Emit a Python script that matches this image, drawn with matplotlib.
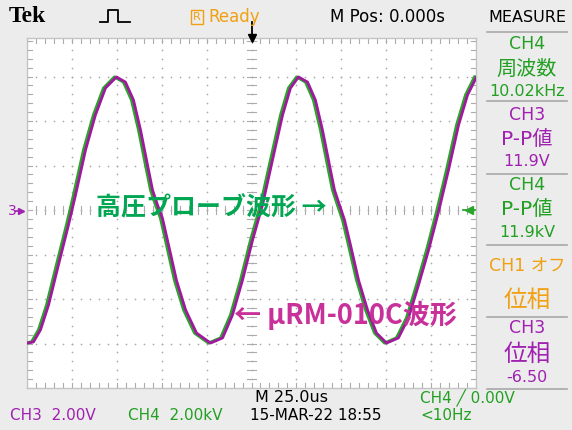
"""Tek scope screenshot: CH3 (uRM-010C) vs CH4 (HV probe), 10 kHz sine."""

import matplotlib
matplotlib.use("Agg")
import matplotlib.pyplot as plt
from matplotlib.lines import Line2D
from matplotlib.patches import Rectangle
import numpy as np

# Waveform: time (us) and CH3 voltage (V)
t_us = [-124.7, -121.4, -117.5, -113.0, -107.5, -101.9, -98.0, -92.4, -86.9,
        -81.3, -75.2, -70.2, -65.7, -61.8, -57.9, -55.1, -52.3, -49.6, -46.2,
        -41.8, -36.7, -30.6, -22.8, -16.1, -10.6, -5.0, 0.6, 6.1, 11.7, 17.3,
        21.7, 26.2, 31.2, 35.6, 39.5, 43.4, 46.2, 49.0, 51.8, 55.1, 59.6, 64.6,
        69.6, 75.2, 81.8, 87.4, 93.0, 98.6, 104.1, 109.7, 115.3, 120.3, 125.3]
ch3_v = [-5.98, -5.93, -5.39, -4.27, -2.47, -0.67, 0.67, 2.70, 4.27, 5.48,
         5.98, 5.75, 4.94, 3.60, 2.02, 0.90, 0.22, -0.36, -1.57, -3.15, -4.49,
         -5.53, -5.98, -5.75, -4.72, -3.15, -1.35, 0.22, 2.25, 4.27, 5.48, 5.98,
         5.75, 4.94, 3.60, 2.02, 0.90, 0.22, -0.45, -1.57, -3.15, -4.49, -5.53,
         -5.98, -5.75, -4.85, -3.37, -1.80, -0.09, 1.80, 3.82, 5.17, 5.98]

# CH4 trace runs slightly ahead of CH3 on screen (us)
ch4_lead_us = 1.1

# Scope settings
time_div = 25.0   # us/div
volt_div = 2.0    # V/div (CH3), CH4 is 2 kV/div -> same screen scale

W, H = 572, 430
BG = "#ececec"
C_MAG = "#a0189e"
C_GRN = "#2aa52a"
C_TXT_MAG = "#a020b0"
C_TXT_GRN = "#22a022"
C_ORG = "#f0a010"
C_NOTE_GRN = "#00a651"
C_NOTE_MAG = "#c8309a"

SCOPE = ["DejaVu Sans", "Noto Sans CJK JP"]
JP = ["Noto Sans CJK JP", "DejaVu Sans"]


def px(x, y):
    return x / W, 1 - y / H


def ftext(x, y, s, **kw):
    fig.text(*px(x, y), s, **kw)


def fline(xs, ys, **kw):
    xs = np.asarray(xs, float) / W
    ys = 1 - np.asarray(ys, float) / H
    fig.lines.append(Line2D(xs, ys, transform=fig.transFigure, **kw))


fig = plt.figure(figsize=(W / 100, H / 100), dpi=100)
fig.patch.set_facecolor(BG)

# Graticule area
gx0, gx1, gy0, gy1 = 27, 476, 38, 388
ax = fig.add_axes([gx0 / W, 1 - gy1 / H, (gx1 - gx0) / W, (gy1 - gy0) / H])
ax.set_facecolor("white")
ax.set_xlim(-5 * time_div, 5 * time_div)
ax.set_ylim(-4 * volt_div, 4 * volt_div - 6 / 44.5 * volt_div)
ax.set_xticks([])
ax.set_yticks([])
for s in ax.spines.values():
    s.set_color("#c4c4c4")
    s.set_linewidth(1.0)

# dotted grid
xmaj = np.arange(-4, 5) * time_div
ymaj = np.arange(-3, 4) * volt_div
xmin = np.arange(-25, 26) * time_div / 5
ymin = np.arange(-20, 20) * volt_div / 5
gc = "#ababab"
for xv in xmaj:
    ax.scatter(np.full_like(ymin, xv), ymin, s=1.5, color=gc, lw=0, zorder=1)
for yv in ymaj:
    ax.scatter(xmin, np.full_like(xmin, yv), s=1.5, color=gc, lw=0, zorder=1)
# center cross ticks and edge ticks
tk = 0.09
for xv in xmin:
    ax.plot([xv, xv], [-tk * volt_div, tk * volt_div], color=gc, lw=0.8, zorder=1)
for yv in ymin:
    ax.plot([-tk * time_div, tk * time_div], [yv, yv], color=gc, lw=0.8, zorder=1)
ylo, yhi = ax.get_ylim()
for xv in xmin:
    ax.plot([xv, xv], [yhi, yhi - 0.12 * volt_div], color=gc, lw=0.8, zorder=1)
    ax.plot([xv, xv], [ylo, ylo + 0.12 * volt_div], color=gc, lw=0.8, zorder=1)
for yv in ymin:
    ax.plot([-125, -125 + 0.12 * time_div], [yv, yv], color=gc, lw=0.8, zorder=1)
    ax.plot([125, 125 - 0.12 * time_div], [yv, yv], color=gc, lw=0.8, zorder=1)

# waveforms
t = np.array(t_us)
v = np.array(ch3_v)
ax.plot(t - ch4_lead_us, v, color=C_GRN, lw=2.2, zorder=3, solid_joinstyle="round")
ax.plot(t, v, color=C_MAG, lw=2.0, zorder=4, solid_joinstyle="round")

# markers: trigger position, trigger level, channel ground
ax.plot([0], [yhi], marker="v", ms=6, color="black", clip_on=False, zorder=6)
ax.plot([0, 0], [yhi, yhi + 0.35 * volt_div], color="black", lw=1.3, clip_on=False)
ax.plot([5 * time_div - 4], [0], marker="<", ms=6, color=C_GRN, clip_on=False, zorder=6)
ax.plot([5 * time_div - 7, 5 * time_div], [0, 0], color=C_GRN, lw=1.3, clip_on=False)
ftext(8, 211, "3", color=C_TXT_MAG, fontsize=10, family="DejaVu Sans", va="center")
fline([15, 21], [211, 211], color=C_TXT_MAG, lw=1.2, marker=">", markevery=[1], ms=4)

# annotations
ax.annotate("高圧プローブ波形 →", xy=(-86.5, 0.1), color=C_NOTE_GRN, fontsize=18,
            fontweight="bold", family=JP, ha="left", va="center", zorder=7)
ax.annotate("← μRM-010C波形", xy=(-10, -4.75), color=C_NOTE_MAG, fontsize=19.5,
            fontweight="bold", family=JP, ha="left", va="center", zorder=7)

# header
ftext(9, 17, "Tek", fontsize=17, fontweight="bold", family="Liberation Serif", va="center")
fline([100, 108, 108, 118, 118, 130], [22, 22, 10, 10, 22, 22], color="black", lw=1.3)
fig.patches.append(Rectangle(px(191, 24), 12 / W, 14 / H, fill=False, ec=C_ORG, lw=1.0,
                             transform=fig.transFigure))
ftext(197, 17, "R", color=C_ORG, fontsize=8, family="DejaVu Sans", ha="center", va="center")
ftext(208, 17, "Ready", color=C_ORG, fontsize=12, family="DejaVu Sans", va="center")
ftext(330, 17, "M Pos: 0.000s", color="black", fontsize=12, family="DejaVu Sans",
      va="center")
ftext(527, 17, "MEASURE", color="black", fontsize=11.5, family="DejaVu Sans", va="center",
      ha="center")

# side measurement panel
for yy in [32, 101, 174, 245, 317, 389]:
    fline([487, 567], [yy, yy], color="#a8a8a8", lw=1.2)
side = [
    (44, "CH4", C_TXT_GRN, 12.5), (69, "周波数", C_TXT_GRN, 14.5), (91, "10.02kHz", C_TXT_GRN, 11.5),
    (115, "CH3", C_TXT_MAG, 12.5), (139, "P-P値", C_TXT_MAG, 14.5), (161, "11.9V", C_TXT_MAG, 11.5),
    (185, "CH4", C_TXT_GRN, 12.5), (209, "P-P値", C_TXT_GRN, 14.5), (232, "11.9kV", C_TXT_GRN, 11.5),
    (266, "CH1 オフ", C_ORG, 12.5), (300, "位相", C_ORG, 17),
    (328, "CH3", C_TXT_MAG, 12.5), (354, "位相", C_TXT_MAG, 17), (377, "-6.50", C_TXT_MAG, 11.5),
]
for yy, s, c, fs in side:
    ftext(527, yy, s, color=c, fontsize=fs, family=SCOPE, ha="center", va="center")

# bottom status line
ftext(255, 398, "M 25.0us", color="black", fontsize=11.5, family="DejaVu Sans", va="center")
ftext(420, 398, "CH4 ╱ 0.00V", color=C_TXT_GRN, fontsize=11, family="DejaVu Sans",
      va="center")
ftext(10, 416, "CH3  2.00V", color=C_TXT_MAG, fontsize=11, family="DejaVu Sans", va="center")
ftext(128, 416, "CH4  2.00kV", color=C_TXT_GRN, fontsize=11, family="DejaVu Sans", va="center")
ftext(250, 416, "15-MAR-22 18:55", color="black", fontsize=11, family="DejaVu Sans",
      va="center")
ftext(420, 416, "<10Hz", color=C_TXT_GRN, fontsize=11, family="DejaVu Sans", va="center")

fig.savefig("out.png", dpi=100, facecolor=BG)
